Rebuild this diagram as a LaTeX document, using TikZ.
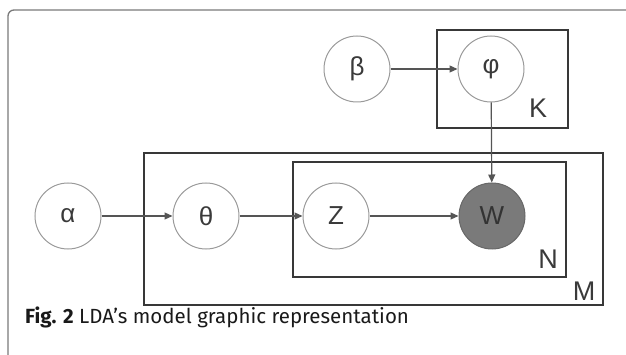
\documentclass[tikz,border=0pt]{standalone}
\usepackage{fontspec}
\setmainfont{Liberation Sans}
\newfontfamily\capfont{Fira Sans}
\usetikzlibrary{arrows.meta}
\definecolor{circ}{HTML}{9A9A9A}
\definecolor{boxc}{HTML}{383838}
\definecolor{arr}{HTML}{555555}
\definecolor{txt}{HTML}{3A3A3A}
\definecolor{wfill}{HTML}{7A7A7A}
\definecolor{frame}{HTML}{7A7A7A}
\tikzset{
  var/.style={circle, draw=circ, line width=1pt, minimum size=66pt, inner sep=0pt,
    text=txt, font=\fontsize{26}{26}\selectfont},
  obs/.style={var, fill=wfill, draw=wfill!85!black, text=black!80},
  plate/.style={draw=boxc, line width=2.6pt},
  platelabel/.style={text=txt, font=\fontsize{27}{27}\selectfont, inner sep=0pt},
  edge/.style={draw=arr, line width=1.2pt, -{Triangle[length=8pt,width=7pt]}},
}
\begin{document}
\begin{tikzpicture}[x=1pt,y=-1pt]
\useasboundingbox (0,0) rectangle (626,355);
% outer frame
\draw[frame, line width=1.3pt, rounded corners=6pt] (8,360) -- (8,10) -- (640,10);
% plates
\draw[plate] (437,30) rectangle (568,128);
\draw[plate] (144,153) rectangle (603,305);
\draw[plate] (293,162) rectangle (566,277);
\node[platelabel] (K) at (538,108) {K};
\node[platelabel] (N) at (548,259) {N};
\node[platelabel] (M) at (584,291) {M};
% variables
\node[var] (beta) at (357,69) {β};
\node[var] (phi) at (491,69) {φ};
\node[var] (alpha) at (68,216) {α};
\node[var] (theta) at (206,216) {θ};
\node[var] (z) at (336,216) {Z};
\node[obs] (w) at (492,216) {W};
% edges
\draw[edge] (beta) -- (phi);
\draw[edge] (phi) -- (w);
\draw[edge] (alpha) -- (theta);
\draw[edge] (theta) -- (z);
\draw[edge] (z) -- (w);
% caption
\node[anchor=base west, inner sep=0pt, text=black!90, font=\capfont\fontsize{20.5}{21}\selectfont] (cap) at (25,323)
  {\textbf{Fig. 2} LDA’s model graphic representation};
\end{tikzpicture}
\end{document}
